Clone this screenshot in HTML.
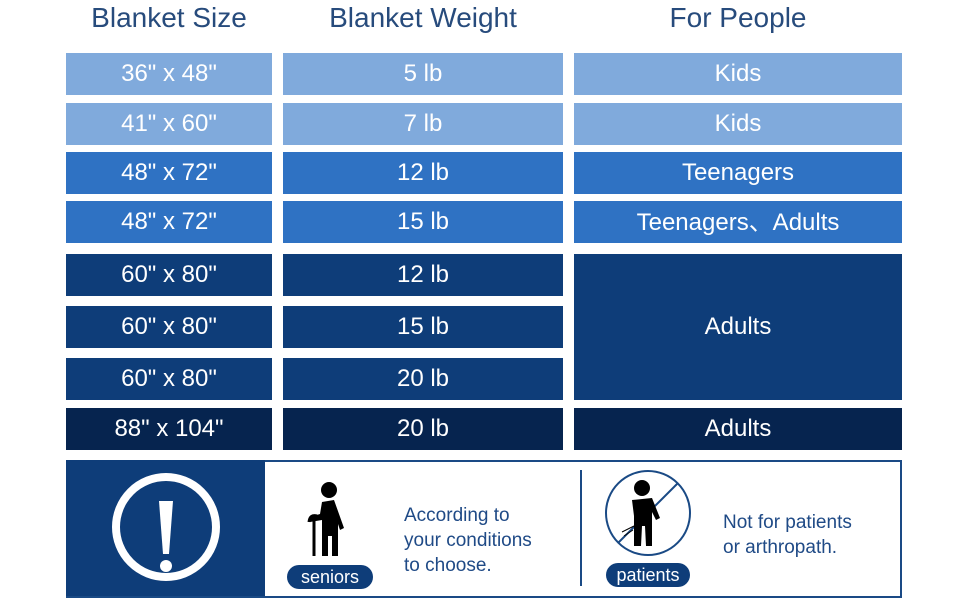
<!DOCTYPE html>
<html><head><style>
body{margin:0;width:970px;height:600px;background:#fff;position:relative;font-family:"Liberation Sans","Noto Sans CJK SC",sans-serif;overflow:hidden}
.h{position:absolute;top:2px;font-size:28px;color:#274b7c;text-align:center}
.c{position:absolute;color:#fff;font-size:24px;display:flex;align-items:center;justify-content:center;line-height:1}
.l{background:#80aadc}.m{background:#2f72c3}.d{background:#0e3d79}.x{background:#06244f}
.t{position:absolute;color:#1f4a86;font-size:19px;line-height:25px}
.pill{position:absolute;background:#0e3d79;color:#fff;font-size:18px;border-radius:12px;text-align:center;line-height:24px}
</style></head><body>
<div class="h" style="left:66px;width:206px">Blanket Size</div>
<div class="h" style="left:283px;width:280px">Blanket Weight</div>
<div class="h" style="left:574px;width:328px">For People</div>

<div class="c l" style="left:66px;top:53px;width:206px;height:42px">36" x 48"</div>
<div class="c l" style="left:283px;top:53px;width:280px;height:42px">5 lb</div>
<div class="c l" style="left:574px;top:53px;width:328px;height:42px">Kids</div>
<div class="c l" style="left:66px;top:103px;width:206px;height:42px">41" x 60"</div>
<div class="c l" style="left:283px;top:103px;width:280px;height:42px">7 lb</div>
<div class="c l" style="left:574px;top:103px;width:328px;height:42px">Kids</div>
<div class="c m" style="left:66px;top:152px;width:206px;height:42px">48" x 72"</div>
<div class="c m" style="left:283px;top:152px;width:280px;height:42px">12 lb</div>
<div class="c m" style="left:574px;top:152px;width:328px;height:42px">Teenagers</div>
<div class="c m" style="left:66px;top:201px;width:206px;height:42px">48" x 72"</div>
<div class="c m" style="left:283px;top:201px;width:280px;height:42px">15 lb</div>
<div class="c m" style="left:574px;top:201px;width:328px;height:42px"><span style="position:relative;top:1px">Teenagers、Adults</span></div>
<div class="c d" style="left:66px;top:254px;width:206px;height:42px">60" x 80"</div>
<div class="c d" style="left:283px;top:254px;width:280px;height:42px">12 lb</div>
<div class="c d" style="left:574px;top:254px;width:328px;height:146px">Adults</div>
<div class="c d" style="left:66px;top:306px;width:206px;height:42px">60" x 80"</div>
<div class="c d" style="left:283px;top:306px;width:280px;height:42px">15 lb</div>
<div class="c d" style="left:66px;top:358px;width:206px;height:42px">60" x 80"</div>
<div class="c d" style="left:283px;top:358px;width:280px;height:42px">20 lb</div>
<div class="c x" style="left:66px;top:408px;width:206px;height:42px">88" x 104"</div>
<div class="c x" style="left:283px;top:408px;width:280px;height:42px">20 lb</div>
<div class="c x" style="left:574px;top:408px;width:328px;height:42px">Adults</div>

<div style="position:absolute;left:66px;top:460px;width:834px;height:134px;border:2px solid #1a4a85;border-left:none"></div>
<div style="position:absolute;left:66px;top:460px;width:199px;height:136px;background:#0e3d79"></div>
<svg style="position:absolute;left:66px;top:460px" width="200" height="136">
<circle cx="100" cy="67" r="50" fill="none" stroke="#fff" stroke-width="8"/>
<path d="M93 41 L107 41 L103 94 L97 94 Z" fill="#fff"/>
<circle cx="100" cy="106" r="6" fill="#fff"/>
</svg>
<svg style="position:absolute;left:300px;top:480px" width="70" height="80">
<circle cx="29" cy="10" r="8" fill="#000"/>
<path d="M22 22 L34 20 L44 48 L40 50 L38 44 L38 76 L32 76 L32 56 L28 56 L28 76 L22 76 L22 40 L10 42 L10 37 L20 34Z" fill="#000"/>
<path d="M14 37 L14 76" stroke="#000" stroke-width="3"/>
<path d="M9 42 Q10 34 17 36" stroke="#000" stroke-width="3" fill="none"/>
</svg>
<div class="pill" style="left:287px;top:565px;width:86px">seniors</div>
<div class="t" style="left:404px;top:503px">According to<br>your conditions<br>to choose.</div>
<div style="position:absolute;left:580px;top:470px;width:2px;height:116px;background:#1a4a85"></div>
<svg style="position:absolute;left:602px;top:468px" width="94" height="92">
<circle cx="46" cy="45" r="42" fill="none" stroke="#1a4a85" stroke-width="2"/>
<line x1="16" y1="75" x2="76" y2="15" stroke="#1a4a85" stroke-width="2"/>
<circle cx="40" cy="20" r="8" fill="#000"/>
<path d="M30 32 L50 30 L58 50 L54 52 L50 44 L50 78 L44 78 L43 58 L40 58 L39 78 L32 78 L32 48 Z" fill="#000"/>
<path d="M20 64 L32 58 M22 68 L31 62" stroke="#000" stroke-width="1"/>
</svg>
<div class="pill" style="left:606px;top:563px;width:84px">patients</div>
<div class="t" style="left:723px;top:510px">Not for patients<br>or arthropath.</div>
</body></html>
